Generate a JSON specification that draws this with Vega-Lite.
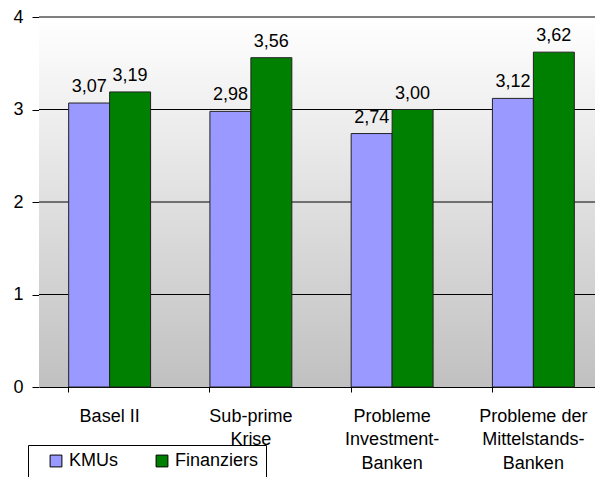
{
  "$schema": "https://vega.github.io/schema/vega-lite/v6.json",
  "width": 565,
  "height": 370,
  "autosize": {"type": "none"},
  "padding": {"left": 39, "top": 17, "right": 0, "bottom": 90},
  "background": "white",
  "config": {
    "font": "Liberation Sans",
    "view": {"stroke": null},
    "locale": {"number": {"decimal": ",", "thousands": ".", "grouping": [3], "currency": ["", " €"]}}
  },
  "data": {
    "values": [
      {"thema": "Basel II", "gruppe": "KMUs", "wert": 3.07},
      {"thema": "Basel II", "gruppe": "Finanziers", "wert": 3.19},
      {"thema": "Sub-prime|Krise", "gruppe": "KMUs", "wert": 2.98},
      {"thema": "Sub-prime|Krise", "gruppe": "Finanziers", "wert": 3.56},
      {"thema": "Probleme|Investment-|Banken", "gruppe": "KMUs", "wert": 2.74},
      {"thema": "Probleme|Investment-|Banken", "gruppe": "Finanziers", "wert": 3.00},
      {"thema": "Probleme der|Mittelstands-|Banken", "gruppe": "KMUs", "wert": 3.12},
      {"thema": "Probleme der|Mittelstands-|Banken", "gruppe": "Finanziers", "wert": 3.62}
    ]
  },
  "layer": [
    {
      "data": {"values": [{"a": 0, "b": 4}]},
      "mark": {
        "type": "rect",
        "color": {
          "gradient": "linear", "x1": 0, "y1": 0, "x2": 0, "y2": 1,
          "stops": [{"offset": 0, "color": "#ffffff"}, {"offset": 1, "color": "#c0c0c0"}]
        }
      },
      "encoding": {
        "x": {"value": 0},
        "x2": {"value": "width"},
        "y": {
          "field": "a", "type": "quantitative", "scale": {"domain": [0, 4]},
          "axis": {
            "title": null, "values": [0, 1, 2, 3, 4], "grid": false,
            "labelFontSize": 18, "labelColor": "#000000", "labelPadding": 9,
            "domainColor": "#808080", "tickColor": "#000000", "tickSize": 7, "format": "d"
          }
        },
        "y2": {"field": "b"}
      }
    },
    {
      "data": {"values": [{"g": 1}, {"g": 2}, {"g": 3}, {"g": 4}]},
      "mark": {"type": "rule", "color": "#000000", "strokeWidth": 1},
      "encoding": {
        "x": {"value": 0},
        "x2": {"value": "width"},
        "y": {"field": "g", "type": "quantitative"}
      }
    },
    {
      "mark": {"type": "bar", "stroke": "#222222", "strokeWidth": 1},
      "encoding": {
        "x": {
          "field": "thema", "type": "nominal", "sort": null,
          "scale": {"paddingInner": 0.42, "paddingOuter": 0.21},
          "axis": {
            "title": null, "labelAngle": 0, "bandPosition": 0,
            "labelExpr": "split(datum.value, '|')",
            "labelFontSize": 18, "labelColor": "#000000", "labelLineHeight": 23.5,
            "labelPadding": 15, "labelBaseline": "top",
            "domainColor": "#000000", "tickColor": "#000000", "tickSize": 5,
            "labelBound": false, "labelOverlap": false
          }
        },
        "xOffset": {"field": "gruppe", "type": "nominal", "sort": ["KMUs", "Finanziers"], "scale": {"paddingInner": 0, "paddingOuter": 0}},
        "y": {"field": "wert", "type": "quantitative"},
        "color": {
          "field": "gruppe", "type": "nominal", "sort": ["KMUs", "Finanziers"],
          "scale": {"domain": ["KMUs", "Finanziers"], "range": ["#9999ff", "#008000"]},
          "legend": {
            "title": null, "orient": "none", "direction": "horizontal",
            "legendX": -11, "legendY": 428,
            "padding": 7, "strokeColor": "#000000", "fillColor": "#ffffff",
            "symbolType": "square", "symbolSize": 140, "symbolStrokeColor": "#000000",
            "symbolStrokeWidth": 1, "symbolOpacity": 1, "symbolOffset": 12,
            "labelFontSize": 18, "labelColor": "#000000", "labelOffset": 4,
            "columnPadding": 23
          }
        }
      }
    },
    {
      "mark": {"type": "text", "baseline": "alphabetic", "dy": -11, "fontSize": 18, "color": "#000000"},
      "encoding": {
        "x": {"field": "thema", "type": "nominal", "sort": null},
        "xOffset": {"field": "gruppe", "type": "nominal", "sort": ["KMUs", "Finanziers"]},
        "y": {"field": "wert", "type": "quantitative"},
        "text": {"field": "wert", "type": "quantitative", "format": ".2f"}
      }
    }
  ]
}
